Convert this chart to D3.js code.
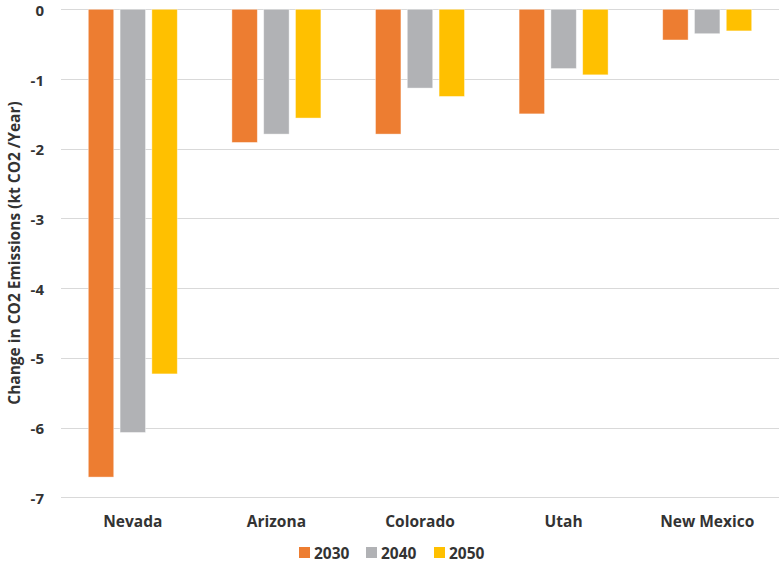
<!DOCTYPE html>
<html>
<head>
<meta charset="utf-8">
<script src="https://cdn.jsdelivr.net/npm/d3@7"></script>
<style>
  html, body { margin: 0; padding: 0; background: #fff; }
  svg { display: block; font-family: "Open Sans", "Noto Sans", sans-serif; }
</style>
</head>
<body>
<svg id="chart" width="779" height="567"></svg>
<script>
// Change in CO2 emissions by state (kt CO2 / year)
const states = ["Nevada", "Arizona", "Colorado", "Utah", "New Mexico"];
const years = ["2030", "2040", "2050"];
const values2030 = [-6.71, -1.91, -1.79, -1.50, -0.44];
const values2040 = [-6.07, -1.79, -1.13, -0.85, -0.35];
const values2050 = [-5.23, -1.56, -1.25, -0.94, -0.31];
const yTicks = [0, -1, -2, -3, -4, -5, -6, -7];
const colors = ["#ED7D31", "#B1B2B5", "#FFC000"];

const seriesValues = [values2030, values2040, values2050];
const rows = states.map((s, i) => ({
  state: s,
  vals: years.map((y, j) => ({ year: y, value: seriesValues[j][i], color: colors[j] }))
}));

const textColor = "#333333";
const svg = d3.select("#chart");
const margin = { left: 61, right: 0 };
const W = 779;

const x = d3.scaleBand().domain(states).range([margin.left, W - margin.right]);
const y = d3.scaleLinear().domain([0, -7]).range([9.3, 497.3]);
const groupWidth = 89;
const x1 = d3.scaleBand().domain(years).range([0, groupWidth]).paddingInner(0.2).paddingOuter(0);

// gridlines
svg.append("g")
  .selectAll("line")
  .data(yTicks)
  .join("line")
  .attr("x1", margin.left)
  .attr("x2", W)
  .attr("y1", d => Math.round(y(d)) + 0.5)
  .attr("y2", d => Math.round(y(d)) + 0.5)
  .attr("stroke", "#D9D9D9")
  .attr("stroke-width", 1.2);

// y axis labels (plain hyphen for negatives)
const yAxis = d3.axisLeft(y).tickValues(yTicks).tickSize(0).tickPadding(0).tickFormat(d => String(d));
const gy = svg.append("g").attr("transform", "translate(44,0)").call(yAxis);
gy.select(".domain").remove();
gy.selectAll("text")
  .attr("dy", "0.4em")
  .attr("font-size", 15)
  .attr("font-weight", 700)
  .attr("fill", textColor)
  .attr("font-family", "'Open Sans', sans-serif");

// bars
const groups = svg.append("g")
  .selectAll("g")
  .data(rows)
  .join("g")
  .attr("transform", d => `translate(${x(d.state) + (x.bandwidth() - groupWidth) / 2},0)`);

groups.selectAll("rect")
  .data(d => d.vals)
  .join("rect")
  .attr("x", d => x1(d.year))
  .attr("width", x1.bandwidth())
  .attr("y", y(0))
  .attr("height", d => y(d.value) - y(0))
  .attr("fill", d => d.color)
  .attr("stroke", "#fff")
  .attr("stroke-opacity", 0.5)
  .attr("stroke-width", 0.8);

// x category labels
const xAxis = d3.axisBottom(x).tickSize(0).tickPadding(0);
const gx = svg.append("g").attr("transform", "translate(0,527)").call(xAxis);
gx.select(".domain").remove();
gx.selectAll("text")
  .attr("dy", 0)
  .attr("font-size", 15.5)
  .attr("font-weight", 700)
  .attr("fill", textColor)
  .attr("font-family", "'Open Sans', sans-serif");

// y axis title
svg.append("text")
  .attr("transform", "translate(20,253) rotate(-90)")
  .attr("text-anchor", "middle")
  .attr("font-size", 15.5)
  .attr("font-weight", 700)
  .attr("fill", textColor)
  .text("Change in CO2 Emissions (kt CO2 /Year)");

// legend
const legendX = [299, 366, 434];
const legend = svg.append("g")
  .selectAll("g")
  .data(years)
  .join("g")
  .attr("transform", (d, i) => `translate(${legendX[i]},547)`);
legend.append("rect")
  .attr("width", 11).attr("height", 11)
  .attr("fill", (d, i) => colors[i]);
legend.append("text")
  .attr("x", 15).attr("y", 11.5)
  .attr("font-size", 15.5)
  .attr("font-weight", 700)
  .attr("fill", textColor)
  .text(d => d);
</script>
</body>
</html>
